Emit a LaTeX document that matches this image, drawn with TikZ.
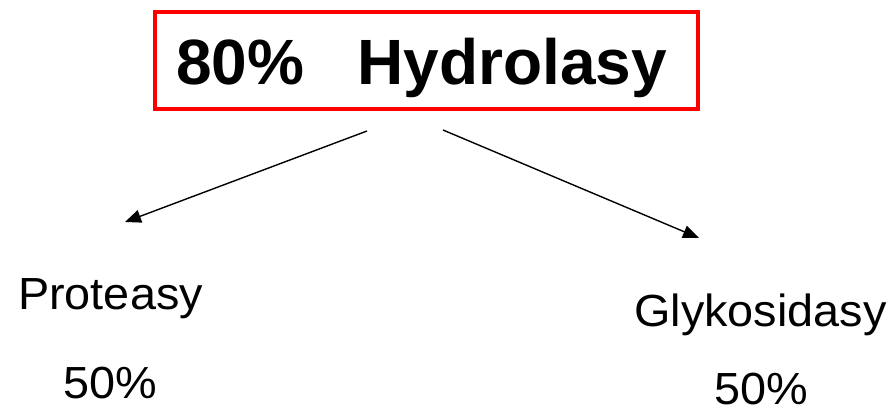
\documentclass[tikz,border=0pt]{standalone}
\usepackage{fontspec}
\setmainfont{Liberation Sans}
\usetikzlibrary{arrows.meta}
\begin{document}
\begin{tikzpicture}[x=1pt,y=1pt,
  frame/.style={draw=red,line width=4pt,minimum width=543pt,minimum height=97pt,inner sep=0pt},
  title/.style={anchor=base,inner sep=0pt,font=\fontsize{64}{70}\selectfont\bfseries},
  label/.style={anchor=base,inner sep=0pt,xscale=1.04,font=\fontsize{45}{50}\selectfont},
  link/.style={line width=1.4pt,-{Triangle[length=16pt,width=13pt]}}]
  \useasboundingbox (0,0) rectangle (893,412);
  % title box
  \node[frame] (box) at (426.5,351.5) {};
  \node[title] (head) at (421.5,327) {80\%\ \ \ Hydrolasy};
  % branch labels
  \node[label] (prot) at (110.5,102) {Proteasy};
  \node[label] (protp) at (110,14) {50\%};
  \node[label] (glyk) at (760.5,85) {Glykosidasy};
  \node[label] (glykp) at (761,8) {50\%};
  % arrow ends
  \coordinate (ls) at (367,281);
  \coordinate (lt) at (125,190);
  \coordinate (rs) at (443,282);
  \coordinate (rt) at (699,174);
  \draw[link] (ls) -- (lt);
  \draw[link] (rs) -- (rt);
\end{tikzpicture}
\end{document}
